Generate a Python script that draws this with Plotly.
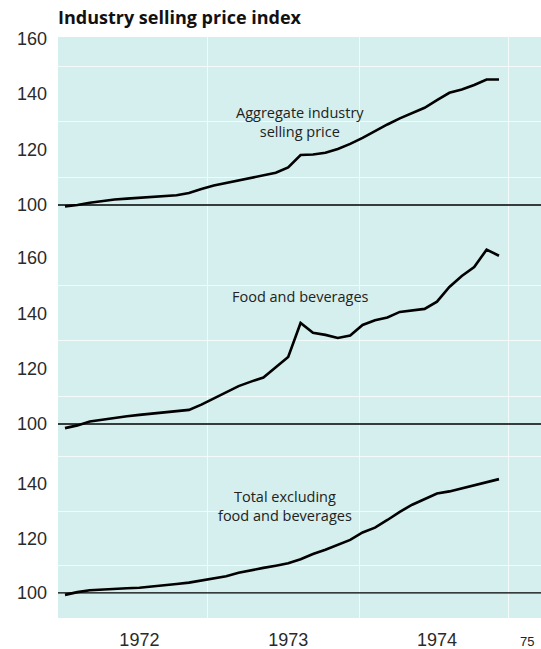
import plotly.graph_objects as go
from plotly.subplots import make_subplots

# monthly index values, Jan 1972 - Dec 1974
months = [1972 + i / 12 for i in range(36)]

aggregate = [99.5, 100.0, 100.8, 101.5, 102.0, 102.3, 102.6, 102.9, 103.1, 103.5, 104.3, 105.8,
             107.0, 107.9, 108.8, 109.7, 110.6, 111.6, 113.5, 118.0, 118.2, 118.8, 120.2, 122.0,
             124.2, 126.7, 129.0, 131.2, 133.2, 135.0, 137.8, 140.4, 141.6, 143.2, 145.2, 145.2]

food = [98.5, 99.5, 100.9, 101.6, 102.1, 102.8, 103.3, 103.8, 104.3, 104.7, 105.1, 107.0,
        109.3, 111.5, 113.7, 115.3, 116.8, 120.5, 124.2, 136.5, 133.0, 132.2, 131.1, 132.0,
        135.8, 137.5, 138.5, 140.5, 141.0, 141.6, 144.2, 149.5, 153.5, 156.7, 163.0, 160.8]

excl_food = [99.3, 100.3, 101.0, 101.3, 101.5, 101.7, 101.9, 102.3, 102.8, 103.3, 103.8, 104.5,
             105.3, 106.1, 107.4, 108.4, 109.2, 110.0, 110.9, 112.4, 114.3, 115.9, 117.6, 119.5,
             122.2, 124.0, 126.8, 129.8, 132.4, 134.5, 136.5, 137.3, 138.4, 139.7, 140.8, 141.8]

series = [aggregate, food, excl_food]
labels = ["Aggregate industry<br>selling price", "Food and beverages",
          "Total excluding<br>food and beverages"]
y_ticks = [[100, 120, 140, 160], [100, 120, 140, 160], [100, 120, 140]]
year_ticks = [1972.5, 1973.5, 1974.5]
year_labels = ["1972", "1973", "1974"]

BG = "#d4efed"
GRID = "rgba(255,255,255,0.7)"
TICK_FONT = dict(family="Liberation Sans", size=18, color="#2a2a2a")

fig = make_subplots(rows=3, cols=1, shared_xaxes=True, vertical_spacing=0,
                    row_heights=[193, 220, 168])

for r, vals in enumerate(series, start=1):
    fig.add_trace(go.Scatter(x=months, y=vals, mode="lines",
                             line=dict(color="black", width=2.6), showlegend=False),
                  row=r, col=1)
    # black reference line at 100
    fig.add_hline(y=100, line=dict(color="black", width=1.3), row=r, col=1)

ranges = [[91.0, 160.5], [90.6, 170.1], [90.8, 152.5]]
for r in range(3):
    fig.update_yaxes(range=ranges[r], tickvals=y_ticks[r], showgrid=False, zeroline=False,
                     ticks="", tickfont=TICK_FONT, ticklabelstandoff=10, automargin=False,
                     minor=dict(tickvals=[110, 130, 150], showgrid=True,
                                gridcolor=GRID, gridwidth=1.2),
                     row=r + 1, col=1)

fig.update_xaxes(range=[1971.953, 1975.199], showgrid=False, zeroline=False, ticks="",
                 automargin=False,
                 minor=dict(tickvals=[1972.96, 1973.98, 1974.98], showgrid=True,
                            gridcolor=GRID, gridwidth=1.2))
fig.update_xaxes(tickvals=year_ticks, ticktext=year_labels, tickfont=TICK_FONT,
                 ticklabelstandoff=9, row=3, col=1)

# series labels
label_pos = [(1973.58, 129.9), (1973.58, 145.9), (1973.48, 131.9)]
for r, (txt, (lx, ly)) in enumerate(zip(labels, label_pos), start=1):
    fig.add_annotation(x=lx, y=ly, text=txt, showarrow=False, row=r, col=1,
                       font=dict(family="Open Sans", size=14.5, color="#222"),
                       align="center")

fig.add_annotation(x=1975.105, y=-0.04, xref="x3", yref="paper", text="75",
                   showarrow=False, yanchor="middle",
                   font=dict(family="Liberation Sans", size=13, color="#222"))

fig.update_layout(
    width=541, height=649,
    margin=dict(l=58, r=0, t=37, b=31, autoexpand=False),
    plot_bgcolor=BG, paper_bgcolor="white",
    title=dict(text="<b>Industry selling price index</b>", x=58 / 541, xanchor="left",
               y=1 - 18 / 649, yanchor="middle",
               font=dict(family="Open Sans", size=18, color="#111")),
)

# drop the browser's default page margin so the figure sits at the window's corner
fig.write_html("out.html", config={"displayModeBar": False},
               post_script="document.body.style.margin='0';")
